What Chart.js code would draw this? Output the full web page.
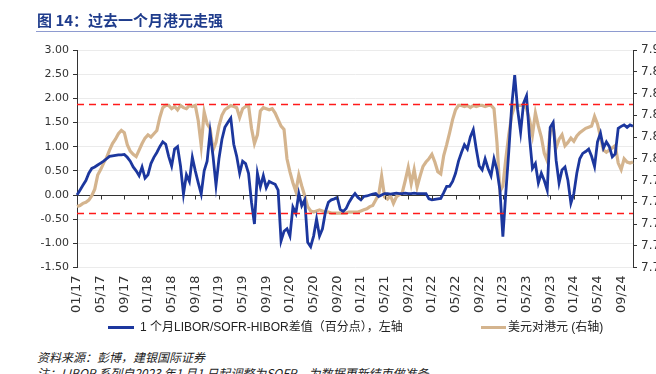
<!DOCTYPE html>
<html>
<head>
<meta charset="utf-8">
<script src="https://cdn.jsdelivr.net/npm/chart.js@4.4.1/dist/chart.umd.min.js"></script>
<style>
    html, body { margin: 0; padding: 0; background: #fff; overflow: hidden; }
    #page { position: relative; width: 656px; height: 374px; overflow: hidden; }
    #title { position: absolute; left: 37px; top: 11px; font: bold 15px "Noto Sans CJK SC", sans-serif; color: #1f3c8c; line-height: 17px; white-space: nowrap; }
    #rule { position: absolute; left: 36px; top: 31px; width: 620px; height: 1px; background: #8e9bd0; }
    #chart { position: absolute; left: 0; top: 0; }
    .swatch { position: absolute; height: 3px; }
    .ltext { position: absolute; font: 12px "Liberation Sans", "Noto Sans CJK SC", sans-serif; color: #222; line-height: 14px; white-space: nowrap; }
    .foot { position: absolute; left: 37px; font: italic 12px "Noto Sans CJK SC", sans-serif; color: #222; line-height: 14px; white-space: nowrap; }
</style>
</head>
<body>
<div id="page">
    <canvas id="chart" width="700" height="320"></canvas>
    <div id="title">图 14：过去一个月港元走强</div>
    <div id="rule"></div>
    <div class="swatch" style="left:108px; top:326px; width:26px; background:#1c379e;"></div>
    <div class="ltext" style="left:140px; top:320px;">1 个月LIBOR/SOFR-HIBOR差值（百分点），左轴</div>
    <div class="swatch" style="left:481px; top:326px; width:25px; background:#d4b48e;"></div>
    <div class="ltext" style="left:508px; top:320px;">美元对港元 (右轴)</div>
    <div class="foot" style="top:350px;">资料来源：彭博，建银国际证券</div>
    <div class="foot" style="top:366px;">注：LIBOR 系列自2023 年1 月1 日起调整为SOFR，为数据更新结束做准备</div>
</div>
<script>
// x ticks every 4 months, data every half month (8 points per tick)
const tickLabels = ['01/17', '05/17', '09/17', '01/18', '05/18', '09/18', '01/19', '05/19',
    '09/19', '01/20', '05/20', '09/20', '01/21', '05/21', '09/21', '01/22', '05/22', '09/22',
    '01/23', '05/23', '09/23', '01/24', '05/24', '09/24'];

// 1M LIBOR/SOFR - HIBOR spread, pct pts (left axis)
const spread = [
    0.00, 0.10, 0.20, 0.30, 0.45, 0.55, 0.58, 0.62,
    0.66, 0.70, 0.75, 0.80, 0.81, 0.82, 0.83, 0.83,
    0.84, 0.78, 0.70, 0.58, 0.50, 0.40, 0.58, 0.35,
    0.42, 0.65, 0.78, 0.88, 1.00, 1.10, 1.05, 0.80,
    0.60, 0.95, 1.00, 0.60, 0.02, 0.42, 0.28, 0.78,
    0.50, 0.25, 0.02, 0.50, 0.70, 1.30, 0.80, 0.20,
    0.75, 1.15, 1.40, 1.50, 1.59, 1.05, 0.80, 0.45,
    0.70, 0.65, 0.45, -0.15, -0.60, 0.45, 0.17, 0.40,
    0.15, 0.28, 0.25, 0.22, 0.10, -0.95, -0.75, -0.70,
    -0.85, -0.25, -0.38, 0.03, -0.22, -0.10, -0.98, -1.07,
    -0.85, -0.50, -0.85, -0.70, -0.35, -0.15, -0.10, -0.08,
    -0.05, -0.30, -0.34, -0.28, -0.15, -0.05, 0.03, -0.05,
    -0.10, -0.03, -0.02, 0.00, 0.02, 0.03, -0.03, 0.00,
    0.03, 0.03, 0.02, 0.03, 0.04, 0.03, 0.03, 0.04,
    0.03, 0.03, 0.04, 0.03, 0.03, 0.03, 0.03, -0.08,
    -0.10, -0.09, -0.08, -0.07, 0.05, 0.18, 0.18, 0.28,
    0.45, 0.70, 0.88, 1.04, 0.95, 1.20, 1.35, 0.95,
    0.60, 0.52, 0.75, 0.55, 0.40, 0.75, 0.52, 0.10,
    -0.86, 0.05, 0.90, 1.85, 2.48, 1.76, 1.30, 1.90,
    2.05, 1.20, 0.55, 0.65, 0.25, 0.45, 0.30, 0.10,
    1.40, 1.50, 0.72, 0.25, 0.52, 0.58, 0.30, -0.17,
    0.03, 0.45, 0.75, 0.86, 0.90, 0.95, 0.80, 0.59,
    1.10, 1.28, 0.97, 1.10, 1.00, 0.79, 0.85, 1.38,
    1.42, 1.45, 1.40, 1.45, 1.42
];

// USD/HKD (right axis)
const usdhkd = [
    7.756, 7.757, 7.759, 7.760, 7.762, 7.766, 7.772, 7.785,
    7.790, 7.796, 7.801, 7.808, 7.814, 7.818, 7.823, 7.826,
    7.824, 7.813, 7.807, 7.804, 7.802, 7.808, 7.814, 7.819,
    7.822, 7.820, 7.823, 7.826, 7.838, 7.847, 7.849, 7.849,
    7.846, 7.848, 7.845, 7.849, 7.847, 7.846, 7.849, 7.848,
    7.849, 7.835, 7.812, 7.843, 7.832, 7.828, 7.808, 7.815,
    7.830, 7.840, 7.845, 7.847, 7.849, 7.848, 7.847, 7.838,
    7.846, 7.848, 7.849, 7.828, 7.814, 7.822, 7.844, 7.847,
    7.846, 7.845, 7.846, 7.842, 7.836, 7.830, 7.827, 7.800,
    7.788, 7.778, 7.770, 7.785, 7.775, 7.766, 7.756, 7.752,
    7.751, 7.752, 7.753, 7.752, 7.751, 7.751, 7.750, 7.750,
    7.750, 7.750, 7.750, 7.750, 7.751, 7.751, 7.751, 7.751,
    7.752, 7.753, 7.754, 7.756, 7.757, 7.762, 7.767, 7.784,
    7.765, 7.763, 7.766, 7.759, 7.765, 7.767, 7.769, 7.780,
    7.792, 7.777, 7.790, 7.774, 7.784, 7.793, 7.797, 7.800,
    7.804, 7.797, 7.788, 7.786, 7.803, 7.813, 7.824, 7.836,
    7.845, 7.849, 7.849, 7.848, 7.849, 7.847, 7.849, 7.848,
    7.849, 7.849, 7.848, 7.849, 7.849, 7.846, 7.815, 7.770,
    7.775, 7.800, 7.822, 7.840, 7.849, 7.849, 7.849, 7.849,
    7.846, 7.836, 7.822, 7.842, 7.830, 7.820, 7.805, 7.798,
    7.825, 7.830, 7.810, 7.818, 7.822, 7.812, 7.815, 7.819,
    7.816, 7.821, 7.824, 7.826, 7.828, 7.829, 7.830, 7.839,
    7.832, 7.820, 7.808, 7.806, 7.808, 7.810, 7.812, 7.796,
    7.790, 7.800, 7.797, 7.796, 7.797
];

// HKD convertibility band (right axis)
const pegBand = [7.85, 7.75];

const categories = spread.map((v, i) => (i % 8 === 0 ? tickLabels[i / 8] : ''));

const axisColor = '#333';

// red dashed peg lines + small ticks on the zero line
const extras = {
    id: 'extras',
    afterDatasetsDraw(chart) {
        const { ctx, chartArea, scales } = chart;
        ctx.save();
        ctx.strokeStyle = '#ff1a1a';
        ctx.lineWidth = 1.5;
        ctx.setLineDash([7, 5]);
        pegBand.forEach(v => {
            const y = Math.round(scales.yR.getPixelForValue(v)) + 0.5;
            ctx.beginPath();
            ctx.moveTo(chartArea.left, y);
            ctx.lineTo(chartArea.right, y);
            ctx.stroke();
        });
        ctx.setLineDash([]);
        ctx.strokeStyle = axisColor;
        ctx.lineWidth = 1;
        const y0 = Math.round(scales.y.getPixelForValue(0)) + 0.5;
        categories.forEach((c, i) => {
            if (!c) return;
            const x = Math.round(scales.x.getPixelForValue(i)) + 0.5;
            ctx.beginPath();
            ctx.moveTo(x, y0);
            ctx.lineTo(x, y0 + 4);
            ctx.stroke();
        });
        ctx.restore();
    }
};

const ctx = document.getElementById('chart').getContext('2d');
new Chart(ctx, {
    type: 'line',
    data: {
        labels: categories,
        datasets: [{
            label: '1 个月LIBOR/SOFR-HIBOR差值（百分点），左轴',
            data: spread,
            yAxisID: 'y',
            borderColor: '#1c379e',
            borderWidth: 2.8,
            pointRadius: 0,
            tension: 0
        }, {
            label: '美元对港元 (右轴)',
            data: usdhkd,
            yAxisID: 'yR',
            borderColor: '#d4b48e',
            borderWidth: 3.2,
            pointRadius: 0,
            tension: 0
        }]
    },
    options: {
        responsive: false,
        animation: false,
        layout: { padding: { top: 50, left: 0, right: 0, bottom: 0 } },
        plugins: {
            legend: { display: false },
            tooltip: { enabled: false }
        },
        scales: {
            x: {
                grid: { display: false, drawTicks: false },
                border: { display: false },
                ticks: {
                    autoSkip: false,
                    minRotation: 90,
                    maxRotation: 90,
                    padding: 8,
                    color: '#333',
                    font: { family: 'DejaVu Sans', size: 13 },
                    callback: (v, i) => categories[i] || null
                },
                afterFit: s => { s.height = 52.5; }
            },
            y: {
                position: 'left',
                min: -1.5,
                max: 3,
                ticks: {
                    stepSize: 0.5,
                    padding: 4,
                    color: '#333',
                    font: { family: 'DejaVu Sans', size: 11 },
                    callback: v => v.toFixed(2)
                },
                grid: {
                    color: c => (c.tick && c.tick.value === 0 ? axisColor : '#ebebeb'),
                    tickColor: axisColor,
                    tickLength: 4
                },
                border: { display: true, color: axisColor },
                afterFit: s => { s.width = 77; }
            },
            yR: {
                position: 'right',
                min: 7.70,
                max: 7.90,
                ticks: {
                    stepSize: 0.02,
                    padding: 4,
                    color: '#333',
                    font: { family: 'DejaVu Sans', size: 12 },
                    callback: v => v.toFixed(2)
                },
                grid: {
                    drawOnChartArea: false,
                    tickColor: axisColor,
                    tickLength: 4
                },
                border: { display: true, color: axisColor },
                afterFit: s => { s.width = 67; }
            }
        }
    },
    plugins: [extras]
});
</script>
</body>
</html>
